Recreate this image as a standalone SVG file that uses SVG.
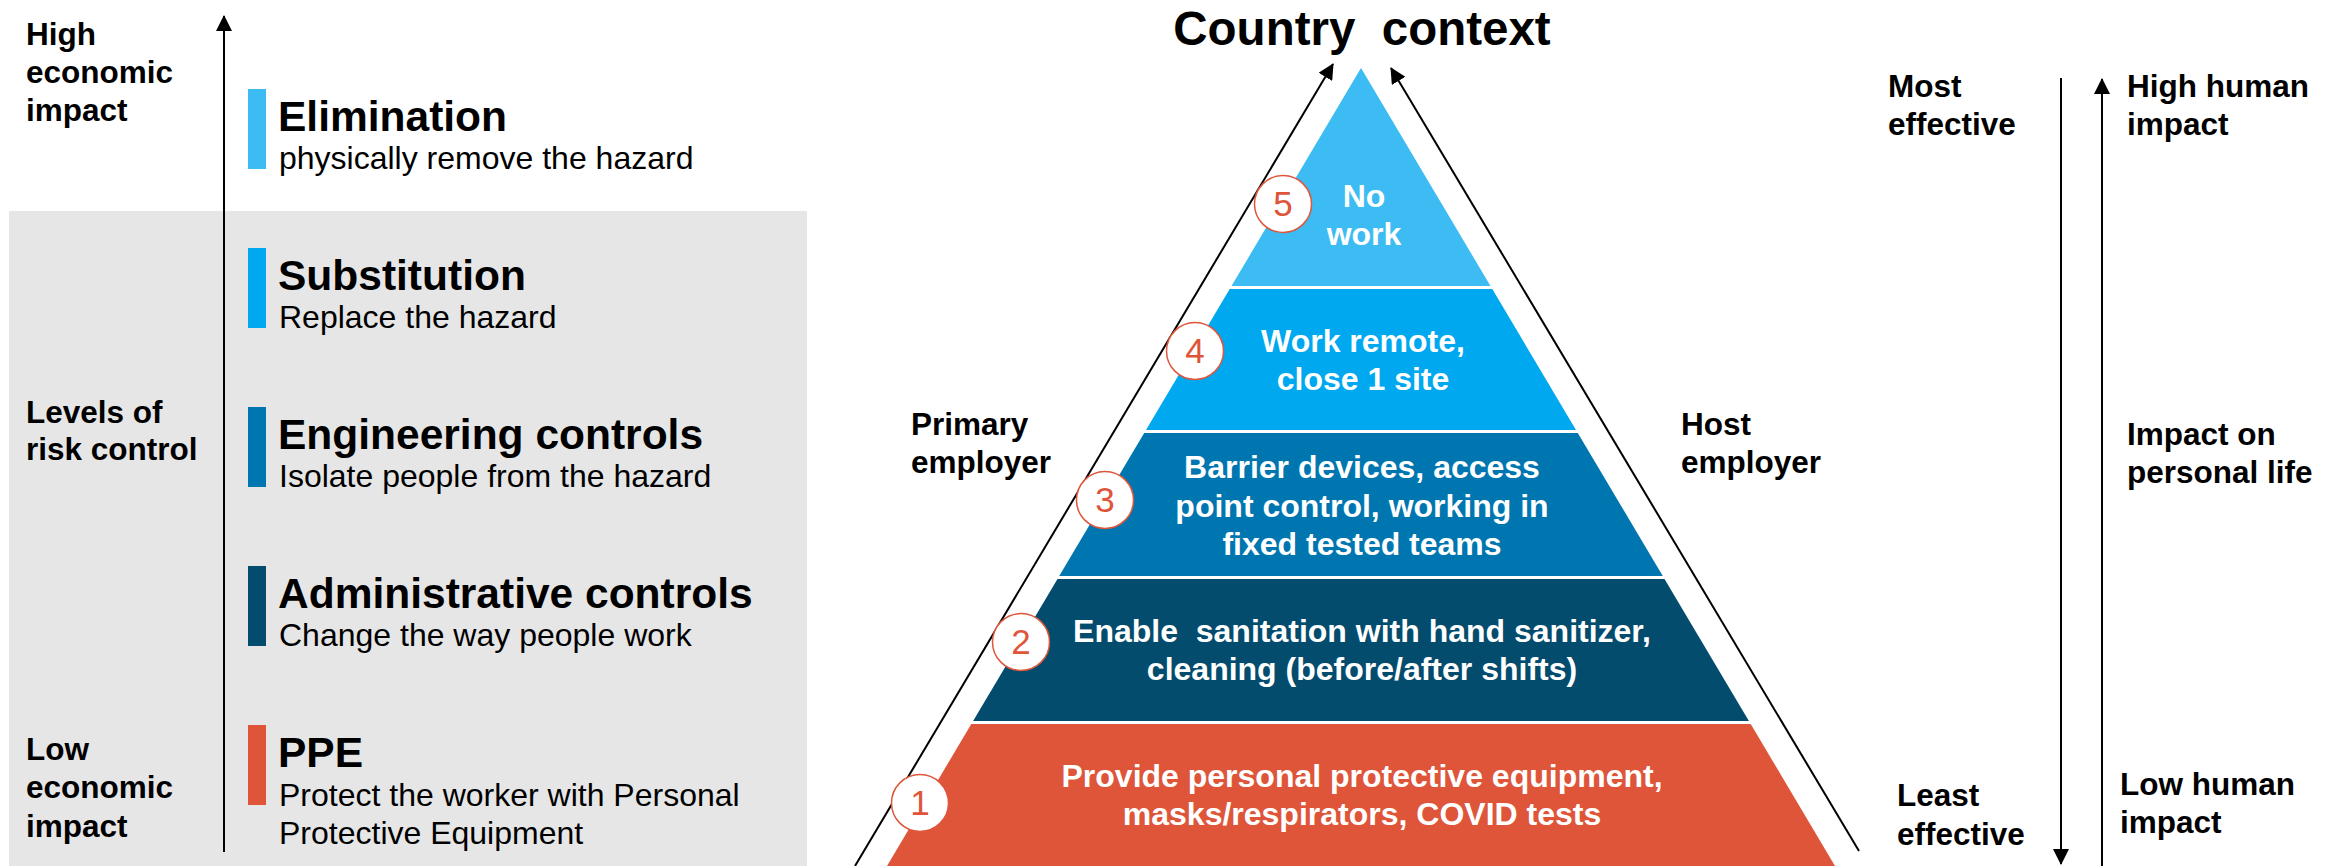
<svg xmlns="http://www.w3.org/2000/svg" width="2341" height="866" viewBox="0 0 2341 866">
<style>
  text { font-family: "Liberation Sans", Arial, sans-serif; fill: #000; }
  .lbl { font-size: 31.5px; font-weight: bold; }
  .ttl { font-size: 42.5px; font-weight: bold; }
  .sub { font-size: 32px; }
  .pt { font-size: 32px; font-weight: bold; fill: #fff; text-anchor: middle; }
  .num { font-size: 35px; fill: #DE553A; text-anchor: middle; }
  .circ { fill: #fff; stroke: #DE553A; stroke-width: 1.5; }
  .ln { stroke: #000; stroke-width: 2; fill: none; }
  .c5 { fill: #3CBCF3; } .c4 { fill: #00A8F0; } .c3 { fill: #0076B0; } .c2 { fill: #044C6E; } .c1 { fill: #DE553A; }
</style>
<defs>
  <marker id="ah" markerWidth="16" markerHeight="16" refX="15" refY="8" orient="auto" markerUnits="userSpaceOnUse">
    <path d="M0,0 L16,8 L0,16 z" fill="#000"/>
  </marker>
</defs>
<rect x="0" y="0" width="2341" height="866" fill="#fff"/>
<rect id="panel" x="9" y="211" width="798" height="655" fill="#E6E6E6"/>

<g id="connectors">
  <line class="ln" x1="224" y1="852" x2="224" y2="16" marker-end="url(#ah)"/>
  <line class="ln" x1="855" y1="866" x2="1333" y2="64" marker-end="url(#ah)"/>
  <line class="ln" x1="1859" y1="851" x2="1391" y2="68" marker-end="url(#ah)"/>
  <line class="ln" x1="2061" y1="78" x2="2061" y2="864" marker-end="url(#ah)"/>
  <line class="ln" x1="2102" y1="866" x2="2102" y2="79" marker-end="url(#ah)"/>
</g>

<g id="left-axis-labels">
  <text class="lbl" x="26" y="45">High</text>
  <text class="lbl" x="26" y="83">economic</text>
  <text class="lbl" x="26" y="121">impact</text>
  <text class="lbl" x="26" y="423">Levels of</text>
  <text class="lbl" x="26" y="460">risk control</text>
  <text class="lbl" x="26" y="760">Low</text>
  <text class="lbl" x="26" y="798">economic</text>
  <text class="lbl" x="26" y="837">impact</text>
</g>

<g id="elimination">
  <rect class="c5" x="248" y="89" width="18" height="80"/>
  <text class="ttl" x="278" y="131">Elimination</text>
  <text class="sub" x="279" y="169">physically remove the hazard</text>
</g>
<g id="substitution">
  <rect class="c4" x="248" y="248" width="18" height="80"/>
  <text class="ttl" x="278" y="290">Substitution</text>
  <text class="sub" x="279" y="328">Replace the hazard</text>
</g>
<g id="engineering">
  <rect class="c3" x="248" y="407" width="18" height="80"/>
  <text class="ttl" x="278" y="449">Engineering controls</text>
  <text class="sub" x="279" y="487">Isolate people from the hazard</text>
</g>
<g id="administrative">
  <rect class="c2" x="248" y="566" width="18" height="80"/>
  <text class="ttl" x="278" y="608">Administrative controls</text>
  <text class="sub" x="279" y="646">Change the way people work</text>
</g>
<g id="ppe">
  <rect class="c1" x="248" y="725" width="18" height="80"/>
  <text class="ttl" x="278" y="767">PPE</text>
  <text class="sub" x="279" y="806">Protect the worker with Personal</text>
  <text class="sub" x="279" y="844">Protective Equipment</text>
</g>

<g id="title">
  <text x="1362" y="45" font-size="47.5" font-weight="bold" text-anchor="middle" xml:space="preserve">Country  context</text>
</g>

<g id="level5">
  <polygon class="c5" points="1361,68 1490.5,286 1231.5,286"/>
  <text class="pt" x="1364" y="207">No</text>
  <text class="pt" x="1364" y="245">work</text>
</g>
<g id="level4">
  <polygon class="c4" points="1229.7,289 1492.3,289 1576,430 1146,430"/>
  <text class="pt" x="1363" y="352">Work remote,</text>
  <text class="pt" x="1363" y="390">close 1 site</text>
</g>
<g id="level3">
  <polygon class="c3" points="1144.2,433 1577.8,433 1662.8,576 1059.2,576"/>
  <text class="pt" x="1362" y="478">Barrier devices, access</text>
  <text class="pt" x="1362" y="517">point control, working in</text>
  <text class="pt" x="1362" y="555">fixed tested teams</text>
</g>
<g id="level2">
  <polygon class="c2" points="1057.5,579 1664.5,579 1748.9,721 973.1,721"/>
  <text class="pt" x="1362" y="642" xml:space="preserve">Enable  sanitation with hand sanitizer,</text>
  <text class="pt" x="1362" y="680">cleaning (before/after shifts)</text>
</g>
<g id="level1">
  <polygon class="c1" points="971.3,724 1750.7,724 1835,866 887,866"/>
  <text class="pt" x="1362" y="787">Provide personal protective equipment,</text>
  <text class="pt" x="1362" y="825">masks/respirators, COVID tests</text>
</g>

<g id="badge5"><circle class="circ" cx="1283" cy="204" r="28.5"/><text class="num" x="1283" y="216">5</text></g>
<g id="badge4"><circle class="circ" cx="1195" cy="351" r="28.5"/><text class="num" x="1195" y="363">4</text></g>
<g id="badge3"><circle class="circ" cx="1105" cy="500" r="28.5"/><text class="num" x="1105" y="512">3</text></g>
<g id="badge2"><circle class="circ" cx="1021" cy="642" r="28.5"/><text class="num" x="1021" y="654">2</text></g>
<g id="badge1"><circle class="circ" cx="920" cy="803" r="28.5"/><text class="num" x="920" y="815">1</text></g>

<g id="primary-employer">
  <text class="lbl" x="911" y="435">Primary</text>
  <text class="lbl" x="911" y="473">employer</text>
</g>
<g id="host-employer">
  <text class="lbl" x="1681" y="435">Host</text>
  <text class="lbl" x="1681" y="473">employer</text>
</g>

<g id="right-labels">
  <text class="lbl" x="1888" y="97">Most</text>
  <text class="lbl" x="1888" y="135">effective</text>
  <text class="lbl" x="1897" y="806">Least</text>
  <text class="lbl" x="1897" y="845">effective</text>
  <text class="lbl" x="2127" y="97">High human</text>
  <text class="lbl" x="2127" y="135">impact</text>
  <text class="lbl" x="2127" y="445">Impact on</text>
  <text class="lbl" x="2127" y="483">personal life</text>
  <text class="lbl" x="2120" y="795">Low human</text>
  <text class="lbl" x="2120" y="833">impact</text>
</g>
</svg>
